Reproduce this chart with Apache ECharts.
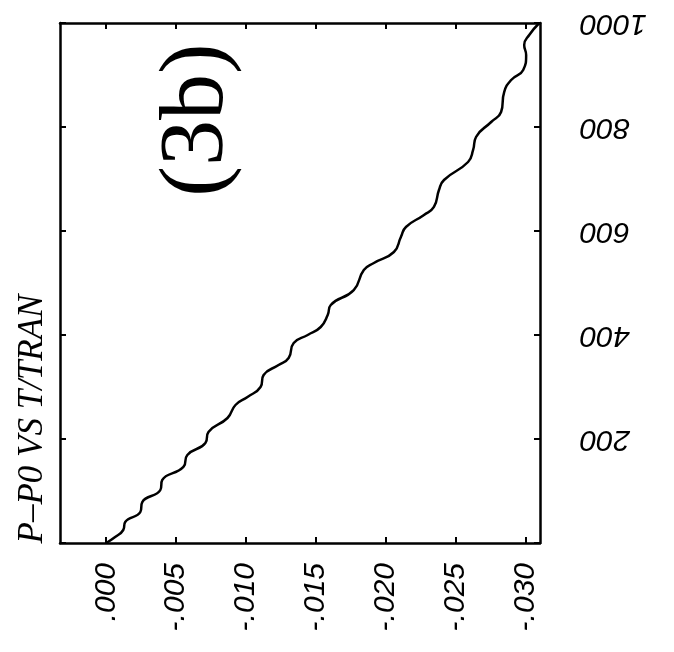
<!DOCTYPE html>
<html>
<head>
<meta charset="utf-8">
<script src="https://cdn.jsdelivr.net/npm/echarts@6/dist/echarts.min.js"></script>
<style>
html, body { margin: 0; padding: 0; background: #fff; }
#chart { width: 674px; height: 652px; }
</style>
</head>
<body>
<div id="chart"></div>
<script>
// P-P0 数值（横轴）
const pValues = [0, -0.00064, -0.00122, -0.00136, -0.00244, -0.00258, -0.00387, -0.00401,
    -0.00552, -0.0058, -0.00709, -0.00731, -0.00867, -0.00924, -0.0101, -0.01103,
    -0.01125, -0.01232, -0.01304, -0.0134, -0.0144, -0.01533, -0.01583, -0.01605,
    -0.01769, -0.01841, -0.01913, -0.02056, -0.02106, -0.02142, -0.02271, -0.02342,
    -0.02378, -0.02414, -0.02586, -0.02622, -0.02643, -0.02751, -0.02822, -0.02844,
    -0.02894, -0.0298, -0.03001, -0.02987, -0.03023, -0.03095];
// T/TRAN 数值（纵轴）
const tValues = [0, 11.5, 25, 40.4, 59.6, 78.8, 101.9, 121.2,
    146.2, 169.2, 192.3, 213.5, 240.4, 265.4, 280.8, 300,
    323.1, 342.3, 355.8, 384.6, 400, 415.4, 438.5, 457.7,
    486.5, 525, 538.5, 559.6, 588.5, 607.7, 630.8, 646.2,
    678.8, 698.1, 732.7, 755.8, 780.8, 809.6, 828.8, 867.3,
    890.4, 909.6, 938.5, 957.7, 976.9, 1000];
// 刻度
const xTicks = [0, -0.005, -0.01, -0.015, -0.02, -0.025, -0.03];
const xTickLabels = ['.000', '-.005', '-.010', '-.015', '-.020', '-.025', '-.030'];
const yTicks = [200, 400, 600, 800, 1000];
const yTickLabels = ['200', '400', '600', '800', '1000'];

const frameLine = { show: true, onZero: false, lineStyle: { color: '#000', width: 2.5 } };
const inTick = { show: true, inside: true, length: 6, lineStyle: { color: '#000', width: 2 } };

function xLabel(v) {
    let best = 0;
    xTicks.forEach(function (t, i) {
        if (Math.abs(t - v) < Math.abs(xTicks[best] - v)) best = i;
    });
    return xTickLabels[best];
}
function yLabel(v) {
    let i = yTicks.indexOf(Math.round(v));
    return i >= 0 ? yTickLabels[i] : '';
}

let myChart = echarts.init(document.getElementById('chart'));
myChart.setOption({
    animation: false,
    backgroundColor: '#fff',
    grid: { left: 60, right: 134, top: 23, bottom: 109 },
    xAxis: [{
        type: 'value',
        position: 'bottom',
        inverse: true,
        min: -0.031,
        max: 0.0033,
        splitLine: { show: false },
        axisLine: frameLine,
        axisTick: Object.assign({ customValues: xTicks }, inTick),
        axisLabel: {
            customValues: xTicks,
            rotate: 90,
            margin: 20,
            formatter: xLabel,
            color: '#000',
            fontFamily: 'Liberation Sans',
            fontStyle: 'italic',
            fontSize: 30
        }
    }, {
        type: 'value',
        position: 'top',
        inverse: true,
        min: -0.031,
        max: 0.0033,
        splitLine: { show: false },
        axisLine: frameLine,
        axisTick: Object.assign({ customValues: xTicks }, inTick),
        axisLabel: { show: false }
    }],
    yAxis: [{
        type: 'value',
        position: 'left',
        min: 0,
        max: 1000,
        interval: 200,
        splitLine: { show: false },
        axisLine: frameLine,
        axisTick: inTick,
        axisLabel: { show: false }
    }, {
        type: 'value',
        position: 'right',
        min: 0,
        max: 1000,
        interval: 200,
        splitLine: { show: false },
        axisLine: frameLine,
        axisTick: inTick,
        axisLabel: {
            customValues: yTicks,
            rotate: 180,
            margin: 40,
            formatter: yLabel,
            color: '#000',
            fontFamily: 'Liberation Sans',
            fontStyle: 'italic',
            fontSize: 30
        }
    }],
    graphic: [{
        type: 'text',
        x: 33,
        y: 419,
        rotation: Math.PI / 2,
        style: {
            text: 'P\u2013P0 VS T/TRAN',
            align: 'center',
            verticalAlign: 'middle',
            fill: '#000',
            font: 'italic 35px "Liberation Serif"'
        }
    }, {
        type: 'text',
        x: 198,
        y: 120,
        rotation: Math.PI / 2,
        style: {
            text: '(3b)',
            align: 'center',
            verticalAlign: 'middle',
            fill: '#000',
            font: '92px "Liberation Serif"'
        }
    }],
    series: [{
        type: 'line',
        xAxisIndex: 0,
        yAxisIndex: 0,
        data: pValues.map(function (p, i) { return [p, tValues[i]]; }),
        smooth: 0.5,
        symbol: 'none',
        lineStyle: { color: '#000', width: 2.5 }
    }]
});
</script>
</body>
</html>
